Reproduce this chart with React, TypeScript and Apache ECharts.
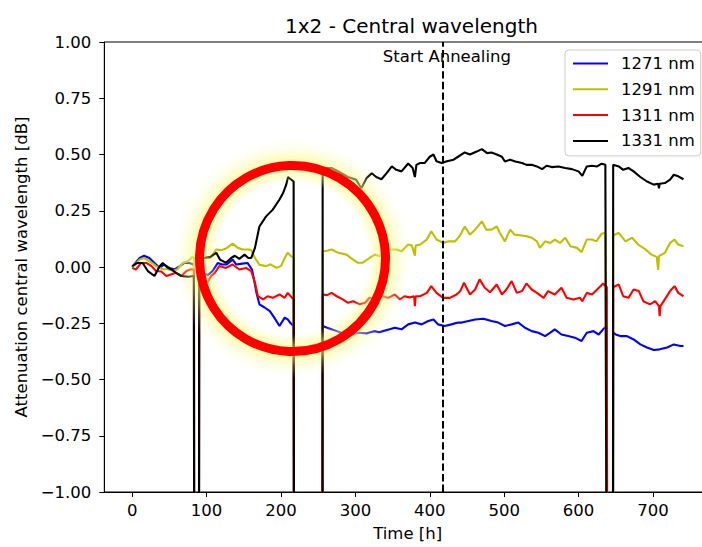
import React, { useEffect, useRef } from "react";
import * as echarts from "echarts";

const TITLE = "1x2 - Central wavelength";
const X_NAME = "Time [h]";
const Y_NAME = "Attenuation central wavelength [dB]";
const X_TICKS = [0, 100, 200, 300, 400, 500, 600, 700];
const X_MIN = -37.5;
const X_MAX = 778;
const Y_MIN = -1;
const Y_MAX = 1;
const Y_STEP = 0.25;
const ANNEAL_T = 418;
const ANNEAL_LABEL = "Start Annealing";
const ANNEAL_LABEL_POS: [number, number] = [423, 0.934];
// readings that fall far below the visible axis (measurement drop-outs)
const OFF = -3;

const SERIES_NAMES = ["1271 nm", "1291 nm", "1311 nm", "1331 nm"];
const COLORS = ["#0000ff", "#bfbf00", "#ff0000", "#000000"];

const s1271: [number, number][] = [
  [0, 0], [5, 0.02], [10, 0.04], [16, 0.05], [23, 0.04], [30, 0.018], [37, -0.004], [43, 0.011], [50, -0.004],
  [57, -0.011], [64, 0.004], [70, 0.018], [77, 0.018], [83, 0.01], [83.5, OFF], [89.5, OFF], [90, -0.01], [95, -0.03],
  [102, -0.035], [108, -0.018], [115, 0.018], [121, 0.011], [127, 0.011], [135, 0.033], [140, 0.011], [148, 0.015],
  [155, 0.018], [161, -0.011], [164, -0.06], [167, -0.114], [171, -0.166], [178, -0.18], [185, -0.196], [191, -0.225],
  [198, -0.262], [205, -0.225], [209, -0.233], [213, -0.25], [217, -0.262], [218, OFF], [255.5, OFF], [256, -0.262],
  [262, -0.27], [268, -0.277], [275, -0.285], [281, -0.292], [288, -0.297], [295, -0.3], [300, -0.295], [306, -0.292],
  [315, -0.295], [320, -0.29], [326, -0.285], [332, -0.29], [337, -0.285], [346, -0.277], [353, -0.27], [362, -0.277],
  [371, -0.255], [380, -0.247], [389, -0.255], [398, -0.24], [405, -0.233], [411, -0.255], [420, -0.262], [429, -0.255],
  [438, -0.247], [443, -0.247], [452, -0.24], [461, -0.233], [472, -0.23], [483, -0.24], [492, -0.247], [501, -0.262],
  [510, -0.255], [519, -0.247], [528, -0.27], [537, -0.285], [546, -0.292], [555, -0.307], [562, -0.292], [568, -0.277],
  [577, -0.3], [586, -0.307], [595, -0.314], [604, -0.329], [611, -0.292], [620, -0.285], [627, -0.3], [633, -0.277],
  [638, -0.262], [639, OFF], [646, OFF], [646.5, -0.29], [650, -0.3], [656, -0.307], [665, -0.307], [674, -0.322],
  [683, -0.344], [692, -0.358], [701, -0.369], [709, -0.366], [719, -0.358], [728, -0.344], [737, -0.351], [741, -0.351],
];

const s1291: [number, number][] = [
  [0, 0], [5, 0.015], [10, 0.033], [16, 0.04], [23, 0.026], [28, 0.015], [32, 0.004], [41, -0.01], [48, -0.01],
  [55, -0.018], [61, -0.01], [68, 0.018], [75, 0.026], [81, 0.045], [83, 0.04], [83.5, OFF], [89.5, OFF], [90, 0.02],
  [93, 0.045], [99, 0.045], [105, 0.04], [113, 0.078], [120, 0.075], [126, 0.082], [135, 0.104], [142, 0.085],
  [149, 0.078], [156, 0.078], [160, 0.075], [165, 0.04], [171, 0.01], [180, 0.004], [186, 0.012], [194, -0.004],
  [200, 0.004], [205, 0.04], [209, 0.063], [213, 0.05], [217, 0.04], [218, OFF], [255.5, OFF], [256, 0.07],
  [262, 0.072], [268, 0.078], [277, 0.063], [288, 0.055], [297, 0.033], [303, 0.019], [310, 0.019], [319, 0.04],
  [326, 0.055], [333, 0.048], [340, 0.078], [349, 0.078], [355, 0.078], [362, 0.07], [371, 0.1], [376, 0.095],
  [380, 0.05], [381, 0.095], [387, 0.1], [396, 0.122], [402, 0.159], [409, 0.122], [418, 0.107], [425, 0.114],
  [434, 0.114], [440, 0.137], [447, 0.18], [454, 0.144], [461, 0.166], [470, 0.203], [476, 0.166], [483, 0.166],
  [490, 0.18], [494, 0.152], [501, 0.114], [508, 0.166], [514, 0.144], [524, 0.14], [530, 0.137], [537, 0.13],
  [544, 0.114], [548, 0.085], [555, 0.114], [562, 0.107], [568, 0.122], [575, 0.107], [582, 0.13], [589, 0.092],
  [598, 0.085], [604, 0.066], [611, 0.122], [618, 0.122], [624, 0.114], [631, 0.148], [636, 0.152], [639, OFF],
  [646, OFF], [646.5, 0.14], [654, 0.152], [663, 0.114], [672, 0.13], [680, 0.1], [690, 0.078], [698, 0.055],
  [705, 0.045], [707, -0.013], [708, 0.048], [716, 0.063], [723, 0.107], [729, 0.122], [734, 0.1], [741, 0.092],
];

const s1311: [number, number][] = [
  [0, -0.004], [5, -0.011], [12, 0.018], [19, 0.018], [26, 0.004], [32, -0.018], [39, -0.02], [46, -0.04],
  [52, -0.033], [59, -0.026], [66, -0.04], [73, -0.018], [79, -0.01], [83, -0.012], [83.5, OFF], [89.5, OFF],
  [90, -0.03], [96, -0.06], [101, -0.07], [106, -0.04], [111, -0.026], [117, 0.004], [126, -0.004], [135, 0.011],
  [144, -0.011], [153, -0.004], [160, -0.018], [165, -0.07], [169, -0.13], [176, -0.144], [182, -0.13], [189, -0.137],
  [198, -0.122], [205, -0.137], [209, -0.115], [213, -0.13], [217, -0.144], [218, OFF], [255.5, OFF], [256, -0.122],
  [262, -0.125], [268, -0.115], [275, -0.13], [283, -0.144], [290, -0.159], [297, -0.152], [306, -0.166],
  [313, -0.159], [319, -0.137], [328, -0.144], [335, -0.13], [344, -0.137], [353, -0.122], [360, -0.144],
  [366, -0.13], [373, -0.135], [379, -0.13], [380, -0.174], [381, -0.13], [387, -0.13], [396, -0.115], [402, -0.085],
  [409, -0.115], [418, -0.137], [427, -0.137], [436, -0.122], [441, -0.107], [446, -0.07], [454, -0.122], [461, -0.1],
  [467, -0.055], [474, -0.092], [481, -0.112], [490, -0.078], [497, -0.122], [503, -0.1], [510, -0.063], [517, -0.115],
  [524, -0.107], [530, -0.073], [537, -0.1], [544, -0.115], [553, -0.137], [559, -0.107], [568, -0.122], [577, -0.092],
  [584, -0.137], [593, -0.144], [602, -0.137], [605, -0.152], [611, -0.115], [618, -0.122], [625, -0.1], [633, -0.073],
  [638, -0.09], [639, OFF], [646, OFF], [646.5, -0.09], [654, -0.078], [660, -0.13], [667, -0.137], [674, -0.1],
  [681, -0.107], [687, -0.152], [696, -0.166], [703, -0.152], [708, -0.174], [709, -0.218], [710, -0.174],
  [716, -0.144], [723, -0.107], [729, -0.085], [734, -0.115], [741, -0.13],
];

const s1331: [number, number][] = [
  [0, 0.004], [7, 0.018], [14, 0.018], [21, -0.018], [30, -0.04], [37, 0.004], [41, 0.018], [48, -0.004],
  [53, -0.011], [59, -0.026], [66, -0.04], [75, -0.043], [83, -0.04], [83.5, OFF], [89.5, OFF], [90, 0.03], [97, 0.04],
  [105, 0.045], [113, 0.063], [118, 0.033], [126, 0.019], [133, 0.04], [138, 0.05], [144, 0.036], [151, 0.055],
  [156, 0.04], [160, 0.04], [165, 0.085], [171, 0.18], [180, 0.225], [189, 0.255], [198, 0.3], [203, 0.33],
  [207, 0.366], [209.5, 0.4], [214, 0.388], [217, 0.38], [218, OFF], [255.5, OFF], [256, 0.44], [268, 0.44],
  [277, 0.425], [290, 0.4], [301, 0.388], [308, 0.35], [315, 0.395], [322, 0.417], [328, 0.4], [335, 0.39],
  [342, 0.417], [349, 0.447], [355, 0.432], [362, 0.425], [371, 0.46], [377, 0.44], [380, 0.4], [382, 0.454],
  [387, 0.462], [393, 0.462], [400, 0.49], [405, 0.5], [409, 0.47], [416, 0.462], [423, 0.47], [432, 0.477],
  [438, 0.49], [447, 0.509], [454, 0.5], [463, 0.513], [470, 0.524], [477, 0.506], [483, 0.509], [490, 0.5],
  [497, 0.49], [501, 0.469], [508, 0.477], [515, 0.469], [524, 0.462], [530, 0.454], [537, 0.454], [544, 0.447],
  [551, 0.435], [557, 0.45], [564, 0.444], [573, 0.447], [582, 0.44], [591, 0.435], [600, 0.425], [605, 0.405],
  [611, 0.447], [618, 0.45], [625, 0.447], [631, 0.459], [636, 0.454], [639, OFF], [646, OFF], [646.5, 0.454],
  [654, 0.447], [660, 0.432], [667, 0.44], [674, 0.425], [683, 0.4], [692, 0.38], [701, 0.366], [707, 0.37],
  [708, 0.35], [709, 0.37], [716, 0.373], [723, 0.388], [728, 0.41], [734, 0.403], [741, 0.39],
];

const SERIES_DATA = [s1271, s1291, s1311, s1331];

const FONT = "DejaVu Sans";
const FS = 16.5;
const fmtY = (v: number) => v.toFixed(2).replace("-", "\u2212");

export default function App() {
  const ref = useRef<HTMLDivElement>(null);
  useEffect(() => {
    if (!ref.current) return;
    const chart = echarts.init(ref.current, null, { renderer: "svg" });
    const series: any[] = SERIES_NAMES.map((name, i) => ({
      name,
      type: "line",
      data: SERIES_DATA[i],
      symbol: "none",
      showSymbol: false,
      clip: true,
      color: COLORS[i],
      lineStyle: { color: COLORS[i], width: 2.1 },
      z: 2 + i,
    }));
    series[3].markLine = {
      silent: true,
      symbol: ["none", "none"],
      label: { show: false },
      lineStyle: { color: "#000", width: 2, type: [7.4, 3.2] },
      data: [{ xAxis: ANNEAL_T }],
    };
    series[3].markPoint = {
      silent: true,
      data: [
        {
          coord: ANNEAL_LABEL_POS,
          symbol: "circle",
          symbolSize: 0,
          label: {
            show: true,
            position: "inside",
            formatter: ANNEAL_LABEL,
            color: "#000",
            fontSize: FS,
            fontFamily: FONT,
          },
        },
      ],
    };

    const glow = new echarts.graphic.RadialGradient(0.5, 0.5, 0.5, [
      { offset: 0, color: "rgba(255,255,120,0)" },
      { offset: 0.63, color: "rgba(255,255,120,0)" },
      { offset: 0.775, color: "rgba(248,248,110,0.75)" },
      { offset: 0.9, color: "rgba(250,250,150,0.25)" },
      { offset: 1, color: "rgba(255,255,200,0)" },
    ]);

    chart.setOption({
      animation: false,
      textStyle: { fontFamily: FONT },
      title: {
        text: TITLE,
        left: 280,
        top: 11,
        textStyle: { fontSize: 20, fontWeight: "normal", color: "#000", fontFamily: FONT },
      },
      legend: {
        data: SERIES_NAMES,
        orient: "vertical",
        left: 565,
        top: 50,
        padding: [4.5, 6, 6, 7],
        itemWidth: 35,
        itemHeight: 18,
        itemGap: 7.8,
        backgroundColor: "rgba(255,255,255,0.8)",
        borderColor: "#cccccc",
        borderWidth: 1,
        borderRadius: 4,
        itemStyle: { opacity: 0, color: "rgba(0,0,0,0)", borderWidth: 0 },
        lineStyle: { width: 2 },
        textStyle: { fontSize: FS, lineHeight: 18, color: "#000", fontFamily: FONT, padding: [0, 0, 0, 8] },
      },
      grid: {
        left: 104.3,
        top: 42,
        right: 9,
        bottom: 53,
        show: true,
        borderColor: "#000",
        borderWidth: 1,
      },
      xAxis: {
        type: "value",
        min: X_MIN,
        max: X_MAX,
        name: X_NAME,
        nameLocation: "middle",
        nameGap: 33,
        nameTextStyle: { fontSize: FS, color: "#000", fontFamily: FONT },
        axisLine: { show: true, onZero: false, lineStyle: { color: "#000", width: 1 } },
        axisTick: { show: true, inside: false, length: 5, customValues: X_TICKS, lineStyle: { color: "#000" } },
        axisLabel: { customValues: X_TICKS, fontSize: FS, color: "#000", margin: 10, fontFamily: FONT },
        splitLine: { show: false },
      },
      yAxis: {
        type: "value",
        min: Y_MIN,
        max: Y_MAX,
        interval: Y_STEP,
        name: Y_NAME,
        nameLocation: "middle",
        nameGap: 71,
        nameTextStyle: { fontSize: FS, color: "#000", fontFamily: FONT },
        axisLine: { show: true, onZero: false, lineStyle: { color: "#000", width: 1 } },
        axisTick: { show: true, inside: false, length: 5, lineStyle: { color: "#000" } },
        axisLabel: { fontSize: FS, color: "#000", margin: 13, formatter: fmtY, fontFamily: FONT },
        splitLine: { show: false },
      },
      graphic: [
        {
          type: "circle",
          z: 100,
          silent: true,
          shape: { cx: 292.5, cy: 258.5, r: 120 },
          style: { fill: glow as any, stroke: "none" },
        },
        {
          type: "circle",
          z: 101,
          silent: true,
          shape: { cx: 292.5, cy: 258.5, r: 93 },
          style: { fill: "none", stroke: "#ff0000", lineWidth: 9 },
        },
      ],
      series,
    });
    return () => chart.dispose();
  }, []);
  return (
    <div
      style={{ position: "absolute", left: 0, top: 0, width: 702, height: 547, overflow: "hidden", background: "#fff" }}
    >
      <div ref={ref} style={{ width: 720, height: 547 }} />
    </div>
  );
}
